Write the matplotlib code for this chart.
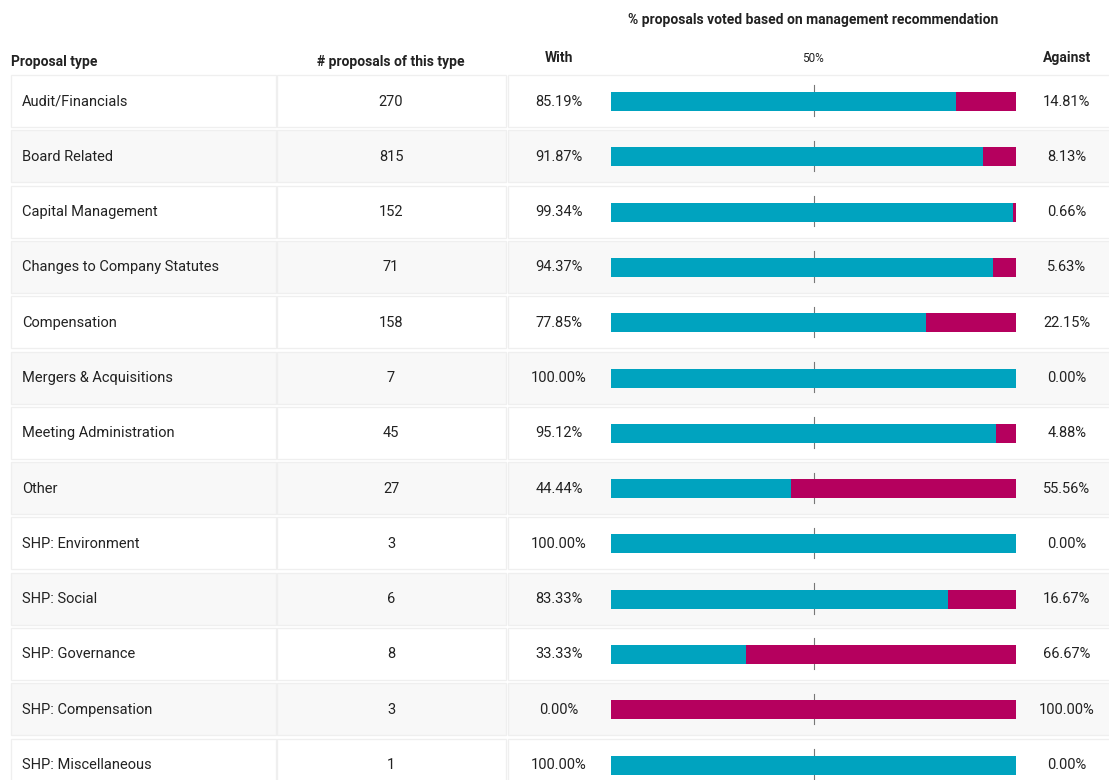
import numpy as np
import matplotlib
matplotlib.use('Agg')
from matplotlib import pyplot as plt
from matplotlib.patches import Rectangle

plt.rcParams['font.family'] = ['Roboto', 'DejaVu Sans']

# data
proposal_types = ['Audit/Financials', 'Board Related', 'Capital Management',
                  'Changes to Company Statutes', 'Compensation', 'Mergers & Acquisitions',
                  'Meeting Administration', 'Other', 'SHP: Environment', 'SHP: Social',
                  'SHP: Governance', 'SHP: Compensation', 'SHP: Miscellaneous']
n_proposals = [270, 815, 152, 71, 158, 7, 45, 27, 3, 6, 8, 3, 1]
pct_with = [85.19, 91.87, 99.34, 94.37, 77.85, 100.00, 95.12, 44.44, 100.00, 83.33, 33.33, 0.00, 100.00]
pct_against = [14.81, 8.13, 0.66, 5.63, 22.15, 0.00, 4.88, 55.56, 0.00, 16.67, 66.67, 100.00, 0.00]

W, H = 1109, 780
teal = '#00a3bf'
magenta = '#b5005e'
txt = '#222222'

fig = plt.figure(figsize=(W / 100, H / 100), dpi=100)

# background table axes in pixel coordinates
ax = fig.add_axes([0, 0, 1, 1])
ax.set_xlim(0, W)
ax.set_ylim(H, 0)
ax.axis('off')

y0, pitch = 101.5, 55.3
cols = [(11, 265), (277, 229), (508, 620)]
for i, name in enumerate(proposal_types):
    yc = y0 + pitch * i
    face = '#ffffff' if i % 2 == 0 else '#f8f8f8'
    for x, w in cols:
        ax.add_patch(Rectangle((x, yc - 26.5), w, 52, facecolor=face,
                               edgecolor='#efefef', lw=0.9))
    ax.text(22, yc, name, ha='left', va='center', fontsize=10.5, color=txt)
    ax.text(391, yc, str(n_proposals[i]), ha='center', va='center', fontsize=10.5, color=txt)
    ax.text(559, yc, f'{pct_with[i]:.2f}%', ha='center', va='center', fontsize=10.5, color=txt)
    ax.text(1067, yc, f'{pct_against[i]:.2f}%', ha='center', va='center', fontsize=10.5, color=txt)

# headers
ax.text(11, 62, 'Proposal type', ha='left', va='center', fontsize=10, fontweight='bold', color=txt)
ax.text(391, 62, '# proposals of this type', ha='center', va='center', fontsize=10, fontweight='bold', color=txt)
ax.text(559, 58, 'With', ha='center', va='center', fontsize=10, fontweight='bold', color=txt)
ax.text(1067, 58, 'Against', ha='center', va='center', fontsize=10, fontweight='bold', color=txt)
ax.text(813, 20, '% proposals voted based on management recommendation', ha='center', va='center',
        fontsize=10, fontweight='bold', color=txt)
ax.text(813, 58, '50%', ha='center', va='center', fontsize=8.5, color=txt)

# bar axes: x 0..100 maps to pixels 611..1016
bx0, bx1 = 611, 1016
axb = fig.add_axes([bx0 / W, 0, (bx1 - bx0) / W, 1])
axb.set_xlim(0, 100)
axb.set_ylim((H - y0) / pitch, -y0 / pitch)
axb.axis('off')
axb.patch.set_alpha(0)

rows = np.arange(len(proposal_types))
for r in rows:
    axb.plot([50, 50], [r - 0.29, r + 0.26], color='#777777', lw=0.8, zorder=1)
axb.barh(rows, pct_with, height=19 / pitch, color=teal, zorder=2)
axb.barh(rows, pct_against, left=pct_with, height=19 / pitch, color=magenta, zorder=2)

fig.savefig('out.png', dpi=100)
